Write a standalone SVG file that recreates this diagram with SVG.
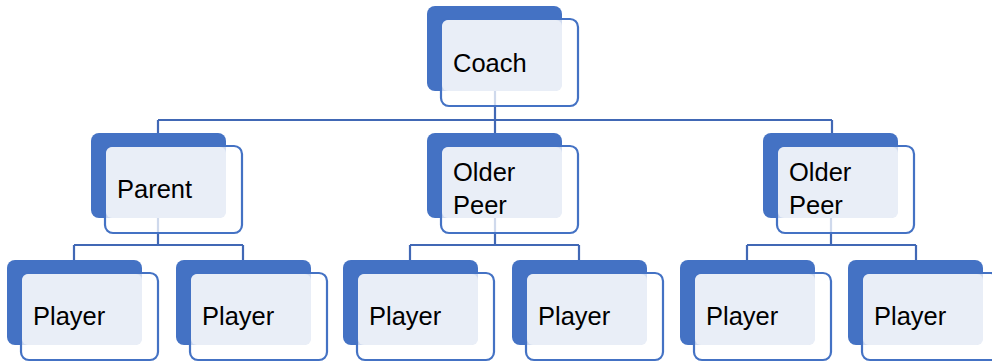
<svg xmlns="http://www.w3.org/2000/svg" width="992" height="362" viewBox="0 0 992 362">
<style>
.back{fill:#4472C4;}
.light{fill:#E9EEF7;}
.front{fill:#FFFFFF;fill-opacity:0.75;stroke:#4472C4;stroke-width:2.2;}
.lbl{font-family:"Liberation Sans",Arial,sans-serif;font-size:25.5px;fill:#000000;}
.conn{fill:none;stroke:#4168B5;stroke-width:2.2;}
</style>
<rect width="992" height="362" fill="#FFFFFF"/>
<g id="connectors">
<path class="conn" d="M495,91 V120 M158,120 H832 M158,120 V133 M495,120 V133 M832,120 V133"/>
<path class="conn" d="M158,218 V245 M74,245 H243 M74,245 V260 M243,245 V260"/>
<path class="conn" d="M495,218 V245 M410,245 H579 M410,245 V260 M579,245 V260"/>
<path class="conn" d="M831,218 V245 M747,245 H916 M747,245 V260 M916,245 V260"/>
</g>
<g id="coach">
<rect class="back" x="427" y="6" width="135" height="85" rx="8"/>
<rect class="front" x="441" y="19" width="137" height="87" rx="8"/>
<rect class="light" x="442" y="20" width="120" height="71" rx="6"/>
<text class="lbl" x="453" y="72">Coach</text>
</g>
<g id="parent">
<rect class="back" x="91" y="133" width="135" height="85" rx="8"/>
<rect class="front" x="105" y="146" width="137" height="87" rx="8"/>
<rect class="light" x="106" y="147" width="120" height="71" rx="6"/>
<text class="lbl" x="117" y="198">Parent</text>
</g>
<g id="olderpeer1">
<rect class="back" x="427" y="133" width="135" height="85" rx="8"/>
<rect class="front" x="441" y="146" width="137" height="87" rx="8"/>
<rect class="light" x="442" y="147" width="120" height="71" rx="6"/>
<text class="lbl" x="453" y="181">Older</text>
<text class="lbl" x="453" y="214">Peer</text>
</g>
<g id="olderpeer2">
<rect class="back" x="763" y="133" width="135" height="85" rx="8"/>
<rect class="front" x="777" y="146" width="137" height="87" rx="8"/>
<rect class="light" x="778" y="147" width="120" height="71" rx="6"/>
<text class="lbl" x="789" y="181">Older</text>
<text class="lbl" x="789" y="214">Peer</text>
</g>
<g id="player1">
<rect class="back" x="7" y="260" width="135" height="85" rx="8"/>
<rect class="front" x="21" y="273" width="137" height="87" rx="8"/>
<rect class="light" x="22" y="274" width="120" height="71" rx="6"/>
<text class="lbl" x="33" y="325">Player</text>
</g>
<g id="player2">
<rect class="back" x="176" y="260" width="135" height="85" rx="8"/>
<rect class="front" x="190" y="273" width="137" height="87" rx="8"/>
<rect class="light" x="191" y="274" width="120" height="71" rx="6"/>
<text class="lbl" x="202" y="325">Player</text>
</g>
<g id="player3">
<rect class="back" x="343" y="260" width="135" height="85" rx="8"/>
<rect class="front" x="357" y="273" width="137" height="87" rx="8"/>
<rect class="light" x="358" y="274" width="120" height="71" rx="6"/>
<text class="lbl" x="369" y="325">Player</text>
</g>
<g id="player4">
<rect class="back" x="512" y="260" width="135" height="85" rx="8"/>
<rect class="front" x="526" y="273" width="137" height="87" rx="8"/>
<rect class="light" x="527" y="274" width="120" height="71" rx="6"/>
<text class="lbl" x="538" y="325">Player</text>
</g>
<g id="player5">
<rect class="back" x="680" y="260" width="135" height="85" rx="8"/>
<rect class="front" x="694" y="273" width="137" height="87" rx="8"/>
<rect class="light" x="695" y="274" width="120" height="71" rx="6"/>
<text class="lbl" x="706" y="325">Player</text>
</g>
<g id="player6">
<rect class="back" x="848" y="260" width="135" height="85" rx="8"/>
<rect class="front" x="862" y="273" width="137" height="87" rx="8"/>
<rect class="light" x="863" y="274" width="120" height="71" rx="6"/>
<text class="lbl" x="874" y="325">Player</text>
</g>
</svg>
